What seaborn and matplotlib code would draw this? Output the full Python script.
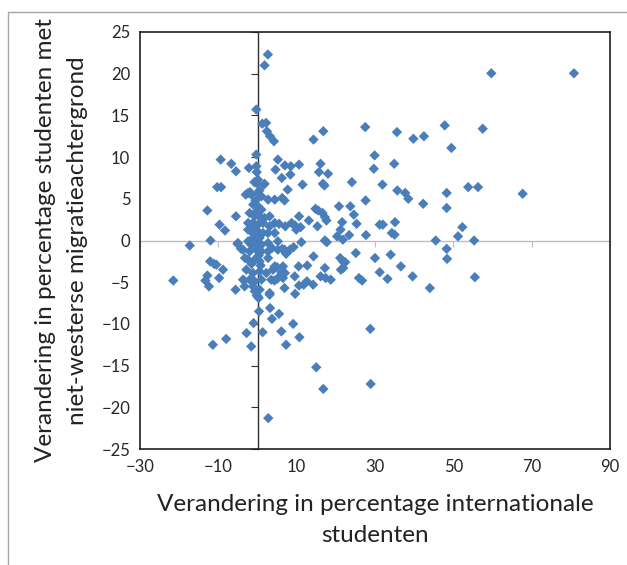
import matplotlib
matplotlib.use("Agg")
import matplotlib.pyplot as plt
import seaborn as sns
import pandas as pd
from matplotlib.patches import Rectangle

# Change in % international students (x) and % non-western migration background students (y)
x_change = [
    2.65, 1.8, 59.7, 80.8, -0.3, 1.2, 2.2, 27.5, 47.8, 57.5, 16.8, 2.4, 3.2, 4.2, 35.6, 39.8, 42.5, 14.3, 49.5, -0.3,
    29.9, -9.4, 5.2, -6.7, 16.1, 10.6, 7.0, 8.5, 34.9, -2.2, -0.3, -5.5, 4.6, 29.7, 15.7, 18.0, -0.2, 8.4, 6.2, -0.8,
    0.1, 24.1, 16.7, 17.1, 11.5, 31.9, 1.6, -10.3, -9.3, 7.7, 53.8, 56.3, 35.7, 37.7, 38.5, 67.7, 48.3, -3.0, -1.9, 27.6,
    6.3, 6.9, 42.3, 20.8, 23.7, 48.3, -12.8, 14.8, 15.5, 16.6, 17.2, 17.6, -5.5, 24.6, 13.1, 21.6, 25.3, 35.1, 31.2, 32.0,
    5.5, 7.1, 8.7, 10.6, 9.6, 11.0, 9.9, 15.3, -9.7, -8.3, 52.3, 21.2, 27.7, 34.3, 35.0, 23.4, 20.3, 51.2, 45.5, 55.3,
    21.8, 17.2, 17.7, -12.0, 11.2, -17.3, -5.1, 48.3, -4.2, 8.3, 9.2, 6.3, 7.3, 3.7, 25.1, 14.3, 34.0, 30.0, 48.4, 21.1,
    21.8, 22.4, -3.2, -12.1, -11.1, -10.5, 10.5, 12.7, 36.6, 4.3, 5.0, 17.2, 21.3, 21.9, -8.8, 31.2, 7.0, 6.3, -12.8, -13.3,
    -12.4, -9.8, 9.5, 16.1, 17.4, 18.7, 39.6, 33.2, 55.5, 25.9, 26.7, 4.3, 5.0, -21.5, -3.4, 14.2, 10.6, 11.8, 12.6, 44.0,
    -5.6, 9.6, 3.1, -0.2, 0.3, 3.2, 0.4, 5.5, 3.7, 9.1, -1.0, 28.8, 6.1, -2.8, 1.3, 10.7, -8.0, -11.4, -1.6, 7.3,
    15.0, 28.9, 16.8, 2.75,
    -0.3, 1.8, -2.4, -1.6, 0.1, 1.0, 2.7, 4.4, -1.1, 0.1, 1.0, -2.0, -0.7, 0.6, 1.8, 3.1, -2.4, -1.2, 0.1, 1.4,
    3.1, 4.4, -2.4, -1.2, 0.1, 1.4, 2.7, 4.4, -5.0, -2.4, -1.6, -0.3, 1.0, 2.7, 5.2, -3.7, -2.0, -0.3, 1.0, 2.7,
    5.2, 6.9, -2.4, -0.7, 0.55, 2.7, 4.4, 6.5, -2.85, -1.15, 0.55, 2.25, 3.96, 6.1, -2.0, -0.7, 1.0, 3.5, 6.5, -3.7,
    -3.3, -1.15, 0.55, 3.1, 6.9, -0.7, 0.1, -0.5, 0.5, -1.0, 0.3, -0.2, -1.5, 0.8, -0.5, 0.5, -1.8,
]
y_change = [
    22.3, 21.0, 20.05, 20.05, 15.7, 14.0, 14.1, 13.6, 13.8, 13.4, 13.1, 13.1, 12.5, 11.9, 13.0, 12.2, 12.5, 12.1, 11.1, 10.3,
    10.2, 9.7, 9.7, 9.2, 9.2, 9.1, 9.0, 8.9, 9.2, 8.7, 8.9, 8.3, 8.5, 8.6, 8.2, 8.0, 8.2, 7.9, 7.5, 7.0,
    7.3, 7.0, 6.8, 6.6, 6.7, 6.7, 6.7, 6.4, 6.4, 6.1, 6.4, 6.4, 6.0, 5.7, 5.0, 5.6, 5.7, 5.5, 5.8, 4.8,
    5.1, 4.8, 4.4, 4.1, 4.1, 3.9, 3.6, 3.8, 3.6, 3.3, 2.8, 2.4, 2.9, 3.1, 2.4, 2.2, 2.0, 2.2, 1.9, 1.9,
    2.0, 1.7, 2.1, 2.9, 1.8, 1.6, 1.3, 1.7, 1.9, 1.2, 1.6, 1.3, 0.65, 0.9, 0.7, 0.65, 0.5, 0.5, 0.0, 0.0,
    0.1, 0.0, -0.2, 0.0, -0.2, -0.6, -0.4, -1.0, -1.0, -1.1, -0.8, -1.0, -1.6, -0.9, -1.5, -1.9, -1.7, -2.1, -2.2, -2.1,
    -2.5, -2.6, -2.1, -2.5, -2.8, -2.9, -3.1, -3.0, -3.1, -3.3, -3.2, -3.3, -3.5, -3.3, -3.5, -3.8, -3.9, -4.2, -4.2, -4.8,
    -5.5, -4.5, -4.3, -4.3, -4.5, -4.7, -4.3, -4.6, -4.4, -4.5, -4.8, -4.8, -4.6, -4.8, -4.8, -5.3, -5.4, -5.3, -4.9, -5.7,
    -5.9, -6.4, -6.5, -6.6, -6.9, -8.1, -8.5, -8.8, -9.4, -10.0, -9.9, -10.6, -10.9, -11.1, -11.0, -11.6, -11.8, -12.5, -12.7, -12.5,
    -15.2, -17.2, -17.8, -21.3,
    6.9, 6.8, 5.7, 5.5, 5.7, 5.3, 4.9, 4.9, 4.3, 4.1, 3.7, 3.3, 2.9, 2.9, 2.7, 2.9, 2.1, 2.1, 1.9, 2.1,
    1.7, 2.1, 1.3, 0.9, 1.1, 0.9, 0.9, 0.9, -0.3, -0.1, -0.5, -0.3, -0.5, -0.3, -0.1, -1.1, -1.3, -1.1, -1.3, -1.3,
    -1.1, -1.1, -2.3, -2.3, -2.5, -2.1, -3.1, -3.1, -3.5, -3.9, -3.7, -3.9, -3.5, -3.9, -4.7, -4.9, -4.7, -4.7, -4.5, -4.7,
    -5.5, -5.5, -5.9, -6.3, -5.7, -6.1, -6.7, 0.5, 0.3, 1.5, -1.8, 3.5, -2.8, -3.0, 4.8, 6.0, 0.0,
]

x_ticks = [-30, -10, 10, 30, 50, 70, 90]
y_ticks = [-25, -20, -15, -10, -5, 0, 5, 10, 15, 20, 25]
x_label = "Verandering in percentage internationale\nstudenten"
y_label = "Verandering in percentage studenten met\nniet-westerse migratieachtergrond"

df = pd.DataFrame({"x": x_change, "y": y_change})

sns.set_style("white")
plt.rcParams["font.family"] = ["Lato", "DejaVu Sans"]

W, H = 627, 565
fig = plt.figure(figsize=(W / 100, H / 100), dpi=100)
pos = [140 / W, 1 - 449 / H, (610 - 140) / W, (449 - 32) / H]

# background axes carrying the axis lines that cross at zero
ax2 = fig.add_axes(pos, zorder=0)
ax2.set_xlim(-30, 90)
ax2.set_ylim(-25, 25)
for s in ["top", "right"]:
    ax2.spines[s].set_visible(False)
ax2.spines["left"].set_position(("data", 0))
ax2.spines["left"].set_color("#303030")
ax2.spines["left"].set_linewidth(1.0)
ax2.spines["bottom"].set_position(("data", 0))
ax2.spines["bottom"].set_color("#BFBFBF")
ax2.spines["bottom"].set_linewidth(1.0)
ax2.set_xticks(x_ticks)
ax2.set_yticks(y_ticks)
ax2.tick_params(axis="y", direction="out", length=5, color="#303030", labelleft=False, left=True)
ax2.tick_params(axis="x", direction="out", length=4, color="#BFBFBF", labelbottom=False, bottom=True)

ax = fig.add_axes(pos, zorder=1)
ax.patch.set_visible(False)
sns.scatterplot(data=df, x="x", y="y", marker="D", s=28, color="#4A7EBB",
                edgecolor="none", linewidth=0, ax=ax, zorder=3, clip_on=False)
ax.set_xlim(-30, 90)
ax.set_ylim(-25, 25)
ax.set_xticks(x_ticks)
ax.set_yticks(y_ticks)
ax.tick_params(length=0, labelsize=12, labelcolor="#262626", pad=7)
for s in ax.spines.values():
    s.set_visible(True)
    s.set_color("#202020")
    s.set_linewidth(1.2)
ax.set_xlabel(x_label, fontsize=17.5, color="#222222", labelpad=14, linespacing=1.6)
ax.set_ylabel(y_label, fontsize=17.5, color="#222222", labelpad=10, linespacing=1.6)

# outer chart border
fig.patches.append(Rectangle((8 / W, -0.05), 1.1, 1 - 12 / H + 0.05, transform=fig.transFigure,
                             fill=False, edgecolor="#A6A6A6", linewidth=1.0))

fig.savefig("out.png", dpi=100)
